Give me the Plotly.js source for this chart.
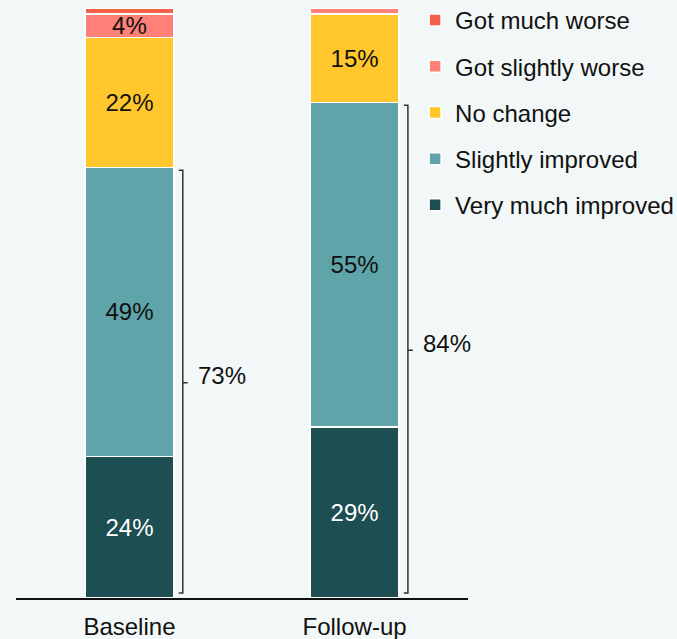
<!DOCTYPE html>
<html>
<head>
<meta charset="utf-8">
<script src="https://cdn.plot.ly/plotly-3.0.1.min.js"></script>
<style>html,body{margin:0;padding:0;background:#f2f7f7;}</style>
</head>
<body>
<div id="chart" style="width:677px;height:639px;"></div>
<script>
const categories = ['Baseline', 'Follow-up'];
const veryMuchImproved = [24, 29];
const slightlyImproved = [49, 55];
const noChange = [22, 15];
const gotSlightlyWorse = [4, 1];
const gotMuchWorse = [1, 0];

const seriesNames = ['Very much improved', 'Slightly improved', 'No change', 'Got slightly worse', 'Got much worse'];
const seriesValues = [veryMuchImproved, slightlyImproved, noChange, gotSlightlyWorse, gotMuchWorse];
const seriesColors = ['#1c4e52', '#5fa4a9', '#ffc72c', '#ff8077', '#f5604a'];
const textColors = ['#ffffff', '#111111', '#111111', '#111111', '#111111'];

const FONT = 'Liberation Sans, Arial, sans-serif';

const traces = seriesValues.map((vals, k) => ({
  type: 'bar',
  name: seriesNames[k],
  x: categories,
  y: vals,
  legendgroup: 'g' + k,
  legendrank: 100 - k,
  text: vals.map(v => v >= 4 ? v + '%' : ''),
  textposition: 'inside',
  insidetextanchor: 'middle',
  constraintext: 'none',
  textfont: {family: FONT, size: 24, color: textColors[k]},
  marker: {color: seriesColors[k], line: {color: '#ffffff', width: 1.5}},
  hoverinfo: 'skip'
}));

const improved = veryMuchImproved.map((v, i) => v + slightlyImproved[i]);

const shapes = [];
const annotations = [];
improved.forEach((tot, i) => {
  const xv = i + 0.237, xh = i + 0.219, xt = i + 0.259;
  const yb = 0.85, yt = tot - 0.5, ym = tot / 2;
  shapes.push({
    type: 'path', xref: 'x', yref: 'y',
    path: `M${xh},${yt} L${xv},${yt} L${xv},${yb} L${xh},${yb} M${xv},${ym} L${xt},${ym}`,
    line: {color: '#333333', width: 1.5}
  });
  annotations.push({
    xref: 'x', yref: 'y', x: i + 0.295, y: ym, yshift: 7,
    xanchor: 'left', yanchor: 'middle', showarrow: false,
    text: tot + '%', font: {family: FONT, size: 24, color: '#111111'}
  });
});

const layout = {
  width: 677, height: 639,
  paper_bgcolor: '#f2f7f7', plot_bgcolor: '#f2f7f7',
  margin: {l: 16, r: 209, t: 8, b: 41, autoexpand: false},
  barmode: 'stack',
  bargap: 0.606,
  font: {family: FONT, size: 24, color: '#111111'},
  xaxis: {
    type: 'category', range: [-0.504, 1.504],
    showgrid: false, zeroline: false, showline: true,
    linecolor: '#111111', linewidth: 2, ticks: '',
    ticklabelstandoff: 6,
    tickfont: {family: FONT, size: 24, color: '#111111'}
  },
  yaxis: {range: [0, 100], visible: false, showgrid: false, zeroline: false},
  showlegend: true,
  legend: {
    x: 0.883, xanchor: 'left', y: 1.017, yanchor: 'top',
    traceorder: 'grouped', tracegroupgap: 12,
    font: {family: FONT, size: 24, color: '#111111'},
    bgcolor: 'rgba(0,0,0,0)'
  },
  shapes: shapes,
  annotations: annotations
};

Plotly.newPlot('chart', traces, layout, {displayModeBar: false, staticPlot: true});
</script>
</body>
</html>
